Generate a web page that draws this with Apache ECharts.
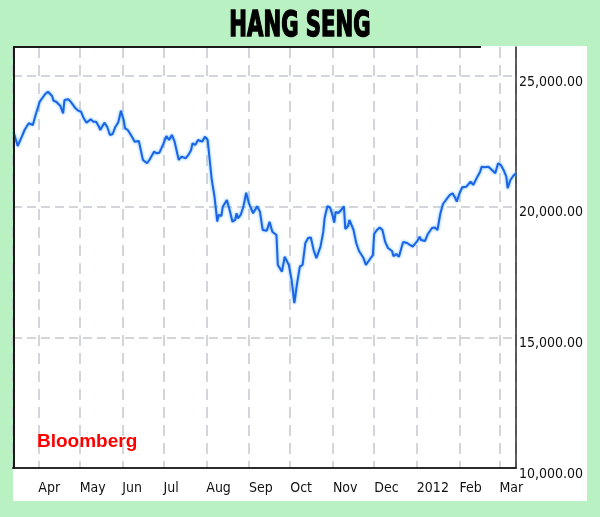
<!DOCTYPE html>
<html>
<head>
<meta charset="utf-8">
<script src="https://cdn.jsdelivr.net/npm/echarts@6/dist/echarts.min.js"></script>
<style>
html,body{margin:0;padding:0;background:#b9f1c3;}
#chart{width:600px;height:517px;}
</style>
</head>
<body>
<div id="chart"></div>
<script>
const titleText = 'HANG SENG';
const sourceText = 'Bloomberg';
const monthNames = ['Jan','Feb','Mar','Apr','May','Jun','Jul','Aug','Sep','Oct','Nov','Dec'];
const yTickValues = [15000, 20000, 25000];
const yMin = 10000, yMax = 26110, yInterval = 5000;

const dates = [
'2011-03-14','2011-03-17','2011-03-20','2011-03-22','2011-03-25','2011-03-26','2011-03-28','2011-03-30',
'2011-04-02','2011-04-06','2011-04-08','2011-04-11','2011-04-12','2011-04-14','2011-04-17','2011-04-19','2011-04-20','2011-04-23','2011-04-25','2011-04-28','2011-04-30',
'2011-05-02','2011-05-04','2011-05-06','2011-05-09','2011-05-11','2011-05-13','2011-05-15','2011-05-16','2011-05-19','2011-05-21','2011-05-23','2011-05-25','2011-05-27','2011-05-29','2011-05-31',
'2011-06-02','2011-06-03','2011-06-05','2011-06-08','2011-06-10','2011-06-13','2011-06-16','2011-06-19','2011-06-21','2011-06-24','2011-06-26','2011-06-28',
'2011-07-01','2011-07-03','2011-07-05','2011-07-07','2011-07-09','2011-07-12','2011-07-14','2011-07-17','2011-07-19','2011-07-21','2011-07-22','2011-07-24','2011-07-26','2011-07-29','2011-07-31',
'2011-08-02','2011-08-03','2011-08-05','2011-08-07','2011-08-09','2011-08-10','2011-08-12','2011-08-13','2011-08-16','2011-08-18','2011-08-20','2011-08-22','2011-08-23','2011-08-24','2011-08-26','2011-08-28','2011-08-30',
'2011-09-01','2011-09-04','2011-09-07','2011-09-09','2011-09-11','2011-09-14','2011-09-16','2011-09-18','2011-09-21','2011-09-22','2011-09-25','2011-09-26','2011-09-27','2011-09-30',
'2011-10-02','2011-10-04','2011-10-06','2011-10-08','2011-10-10','2011-10-12','2011-10-14','2011-10-16','2011-10-18','2011-10-20','2011-10-23','2011-10-25','2011-10-26','2011-10-28','2011-10-30',
'2011-11-01','2011-11-02','2011-11-03','2011-11-05','2011-11-07','2011-11-09','2011-11-10','2011-11-12','2011-11-13','2011-11-16','2011-11-18','2011-11-20','2011-11-23','2011-11-25','2011-11-28','2011-11-30',
'2011-12-01','2011-12-03','2011-12-05','2011-12-07','2011-12-09','2011-12-11','2011-12-14','2011-12-15','2011-12-17','2011-12-19','2011-12-22','2011-12-25','2011-12-27','2011-12-29',
'2012-01-01','2012-01-03','2012-01-04','2012-01-07','2012-01-09','2012-01-12','2012-01-14','2012-01-16','2012-01-18','2012-01-20','2012-01-23','2012-01-25','2012-01-27','2012-01-29','2012-01-30',
'2012-02-01','2012-02-03','2012-02-06','2012-02-07','2012-02-09','2012-02-11','2012-02-14','2012-02-16','2012-02-17','2012-02-19','2012-02-22','2012-02-24','2012-02-27','2012-02-28','2012-02-29',
'2012-03-02','2012-03-04','2012-03-06','2012-03-07','2012-03-09','2012-03-11','2012-03-13'
];
const values = [
22858,22322,22678,22934,23191,23125,23125,23508,
24017,24311,24399,24235,24055,24017,23852,23573,24082,24109,23979,23764,23673,
23634,23382,23214,23344,23252,23252,23060,22934,23214,23060,22743,22781,23060,23214,23673,
23317,22999,22934,22678,22487,22513,21787,21660,21813,22104,22043,22066,
22425,22705,22552,22743,22487,21787,21913,21852,21978,22169,22425,22360,22552,22487,22678,
22552,22043,21021,20383,19426,19682,19644,20000,20256,19874,19426,19491,19748,19556,19682,20000,20536,
20130,19748,20015,19809,19109,19082,19426,19044,18917,17770,17513,17452,18087,17770,
17196,16305,17070,17705,17770,18611,18803,18822,18344,18026,18470,19032,19568,20015,19969,
19617,19388,19797,19759,19874,20015,19147,19262,19491,19109,18600,18305,18057,17770,17999,18133,
18956,19109,19204,19109,18650,18420,18305,18102,18190,18087,18650,18611,18535,18470,
18661,18852,18726,18688,18956,19185,19204,19109,19721,20103,20314,20448,20513,20321,20191,
20513,20742,20765,20704,20956,20830,21148,21339,21530,21507,21530,21431,21278,21469,21660,
21595,21404,21148,20704,21021,21174,21278
];

const xMin = new Date(2011, 2, 13, 14).getTime();
const xMax = new Date(2012, 2, 13, 1).getTime();

function fmtNum(v) {
  const s = Math.round(v).toString().replace(/\B(?=(\d{3})+(?!\d))/g, ',');
  return s + '.00';
}

const narrow = '"DejaVu Sans Condensed", "Liberation Sans", sans-serif';
const gridColor = '#c3c8cd';

const chart = echarts.init(document.getElementById('chart'), null, {renderer: 'canvas'});
chart.setOption({
  backgroundColor: '#b9f1c3',
  animation: false,
  grid: {left: 13, right: 84, top: 47, bottom: 49, containLabel: false},
  graphic: [
    {type: 'rect', z: -100, silent: true, shape: {x: 13, y: 46, width: 574, height: 455}, style: {fill: '#ffffff'}},
    {type: 'line', z: 100, silent: true, shape: {x1: 13, y1: 47, x2: 481, y2: 47}, style: {stroke: '#1a1a1a', lineWidth: 2}},
    {type: 'line', z: 100, silent: true, shape: {x1: 14, y1: 46, x2: 14, y2: 469}, style: {stroke: '#1a1a1a', lineWidth: 2}},
    {type: 'text', z: 100, silent: true, x: 300, y: 27, scaleX: 0.84, scaleY: 1.28,
      style: {text: titleText, x: 0, y: 0, align: 'center', verticalAlign: 'middle',
        font: 'bold 28px "DejaVu Sans Condensed", sans-serif', fill: '#000000',
        stroke: '#000000', lineWidth: 1.2}},
    {type: 'text', z: 100, silent: true,
      style: {text: sourceText, x: 37, y: 442, align: 'left', verticalAlign: 'middle',
        font: 'bold 19px "Liberation Sans", Arial, sans-serif', fill: '#ff0000'}}
  ],
  xAxis: {
    type: 'time',
    min: xMin,
    max: xMax,
    splitNumber: 12,
    minInterval: 28 * 86400000,
    axisLine: {show: true, lineStyle: {color: '#2a2a2a', width: 2}},
    axisTick: {show: false},
    axisLabel: {
      show: true, align: 'left', margin: 13, color: '#111', fontSize: 14, fontFamily: narrow,
      showMinLabel: false, showMaxLabel: false, hideOverlap: false,
      formatter: function (value) {
        const d = new Date(value);
        if (d.getDate() !== 1 || d.getHours() !== 0) return '';
        return d.getMonth() === 0 ? String(d.getFullYear()) : monthNames[d.getMonth()];
      }
    },
    splitLine: {show: true, lineStyle: {color: gridColor, width: 1.5, type: [11, 7]}}
  },
  yAxis: {
    type: 'value',
    position: 'right',
    min: yMin,
    max: yMax,
    interval: yInterval,
    axisLine: {show: true, lineStyle: {color: '#2a2a2a', width: 1.5}},
    axisTick: {show: false},
    splitLine: {show: false},
    axisLabel: {
      show: true, margin: 3, color: '#111', fontSize: 14, fontFamily: narrow,
      verticalAlign: 'top', lineHeight: 12, showMaxLabel: false,
      formatter: function (v) { return (v % yInterval === 0) ? fmtNum(v) : ''; }
    }
  },
  series: [{
    type: 'line',
    data: dates.map((d, i) => [d, values[i]]),
    showSymbol: false,
    symbol: 'none',
    smooth: false,
    z: 5,
    lineStyle: {color: '#1d63e8', width: 2, shadowColor: 'rgba(70,175,250,0.9)', shadowBlur: 3},
    markLine: {
      silent: true,
      symbol: 'none',
      label: {show: false},
      z: 1,
      lineStyle: {color: gridColor, width: 1.5, type: [9, 5]},
      data: yTickValues.map(v => ({yAxis: v}))
    }
  }]
});
</script>
</body>
</html>
